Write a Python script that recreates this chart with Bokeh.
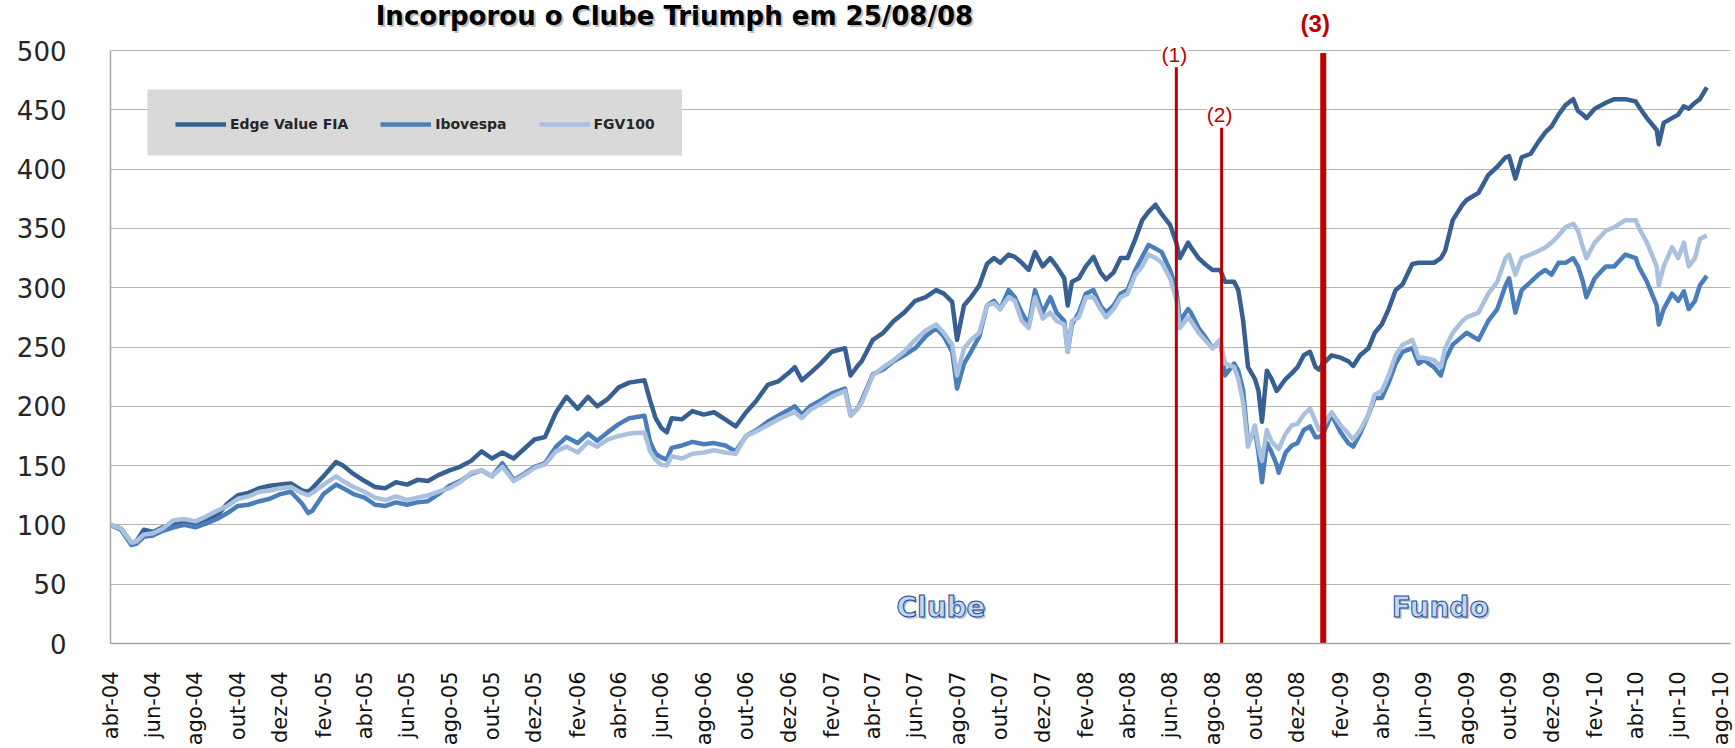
import pandas as pd
from bokeh.plotting import figure
from bokeh.models import Range1d, FixedTicker, Legend, LegendItem, Label, BoxAnnotation
from bokeh.embed import file_html
from bokeh.resources import INLINE

# ---------------- data ----------------
dates = [
    "2004-04-01", "2004-04-16", "2004-05-01", "2004-05-08", "2004-05-19", "2004-06-01", "2004-06-15",
    "2004-07-01", "2004-07-16", "2004-08-01", "2004-08-16", "2004-09-01", "2004-09-16", "2004-10-01",
    "2004-10-16", "2004-11-01", "2004-11-16", "2004-12-01", "2004-12-16",
    "2005-01-01", "2005-01-10", "2005-01-16", "2005-02-01", "2005-02-19", "2005-03-01", "2005-03-16",
    "2005-04-01", "2005-04-16", "2005-05-01", "2005-05-16", "2005-06-01", "2005-06-16", "2005-07-01",
    "2005-07-16", "2005-08-01", "2005-08-16", "2005-09-01", "2005-09-16", "2005-10-01", "2005-10-16",
    "2005-11-01", "2005-11-16", "2005-12-01", "2005-12-16",
    "2006-01-01", "2006-01-16", "2006-02-01", "2006-02-16", "2006-03-01", "2006-03-16", "2006-04-01",
    "2006-04-16", "2006-05-08", "2006-05-16", "2006-05-24", "2006-06-01", "2006-06-09", "2006-06-16",
    "2006-07-01", "2006-07-16", "2006-08-01", "2006-08-16", "2006-09-01", "2006-09-16", "2006-10-01",
    "2006-10-16", "2006-11-01", "2006-11-16", "2006-12-01", "2006-12-10", "2006-12-20",
    "2007-01-01", "2007-01-16", "2007-02-01", "2007-02-20", "2007-02-28", "2007-03-10", "2007-03-16",
    "2007-04-01", "2007-04-16", "2007-05-01", "2007-05-16", "2007-06-01", "2007-06-16", "2007-07-01",
    "2007-07-12", "2007-07-24", "2007-07-31", "2007-08-10", "2007-08-20", "2007-09-01", "2007-09-12",
    "2007-09-22", "2007-10-01", "2007-10-13", "2007-10-22", "2007-11-01", "2007-11-11", "2007-11-20",
    "2007-12-01", "2007-12-12", "2007-12-21",
    "2008-01-01", "2008-01-06", "2008-01-12", "2008-01-22", "2008-02-01", "2008-02-12", "2008-02-22",
    "2008-03-01", "2008-03-12", "2008-03-22", "2008-04-01", "2008-04-12", "2008-04-22", "2008-05-01",
    "2008-05-11", "2008-05-20", "2008-06-01", "2008-06-10", "2008-06-15", "2008-06-27", "2008-07-01",
    "2008-07-12", "2008-07-21", "2008-08-01", "2008-08-12", "2008-08-19", "2008-09-01", "2008-09-07",
    "2008-09-14", "2008-09-21", "2008-10-01", "2008-10-06", "2008-10-11", "2008-10-18", "2008-10-25",
    "2008-11-01", "2008-11-04", "2008-11-14", "2008-11-23", "2008-12-01", "2008-12-10", "2008-12-19",
    "2008-12-27",
    "2009-01-01", "2009-01-07", "2009-01-19", "2009-02-01", "2009-02-12", "2009-02-19", "2009-03-01",
    "2009-03-13", "2009-03-22", "2009-04-01", "2009-04-11", "2009-04-21", "2009-05-01", "2009-05-15",
    "2009-05-24", "2009-06-01", "2009-06-15", "2009-06-25", "2009-07-01", "2009-07-12", "2009-07-26",
    "2009-08-01", "2009-08-18", "2009-09-01", "2009-09-14", "2009-09-26", "2009-10-01", "2009-10-10",
    "2009-10-19", "2009-11-01", "2009-11-12", "2009-11-22", "2009-12-01", "2009-12-11", "2009-12-21",
    "2010-01-01", "2010-01-08", "2010-01-15", "2010-01-20", "2010-02-01", "2010-02-17", "2010-03-01",
    "2010-03-17", "2010-04-01", "2010-04-05", "2010-04-17", "2010-05-01", "2010-05-04", "2010-05-11",
    "2010-05-23", "2010-06-01", "2010-06-09", "2010-06-16", "2010-06-25", "2010-07-02", "2010-07-12",
]

edge_value_fia = [
    100, 97, 85, 86, 96, 94, 98, 101, 103, 100, 104, 108, 118, 125, 127, 131, 133, 134, 135,
    129, 128, 131, 141, 153, 150, 143, 137, 132, 131, 136, 134, 138, 137, 142, 146, 149, 154, 162, 156, 161,
    156, 164, 172, 174,
    195, 208, 198, 208, 200, 206, 216, 220, 222, 205, 190, 182, 178, 190, 189, 196, 193, 195, 189, 183, 195,
    205, 218, 221, 228, 233, 222,
    228, 236, 246, 249, 226, 234, 238, 256, 262, 272, 279, 289, 292, 298, 295, 288, 256, 285, 292, 302, 320,
    325, 321, 328, 326, 321, 315, 330, 318, 325, 318,
    308, 285, 305, 308, 318, 326, 313, 307, 313, 325, 325, 341, 357, 364, 370, 362, 353, 338, 325, 338, 334,
    325, 320, 315, 315, 305, 305, 298, 272, 233, 223, 213, 187, 230, 223, 213, 215, 223, 228, 233, 243, 246,
    233,
    231, 236, 243, 241, 238, 234, 243, 249, 262, 269, 282, 298, 303, 320, 321, 321, 321, 325, 331, 357, 370,
    374, 380, 395, 402, 410, 411, 392, 410, 413, 423, 431, 436, 446, 454,
    459, 449, 446, 443, 451, 456, 459, 459, 457, 453, 443, 433, 421, 439, 443, 446, 453, 451, 456, 459, 469,
]

ibovespa = [
    100, 96, 83, 84, 90, 91, 95, 98, 100, 98, 101, 105, 110, 116, 117, 120, 122, 126, 128,
    118, 110, 112, 126, 134, 131, 126, 123, 117, 116, 119, 117, 119, 120, 126, 133, 137, 143, 146, 141, 152,
    138, 143, 149, 152,
    166, 174, 169, 177, 171, 178, 185, 190, 192, 170, 160, 157, 155, 165, 167, 170, 168, 169, 167, 162, 175,
    180, 187, 192, 197, 200, 193,
    200, 205, 211, 215, 193, 198, 205, 227, 231, 238, 243, 249, 259, 266, 259, 246, 215, 236, 246, 259, 285,
    289, 282, 298, 292, 279, 269, 298, 279, 292, 279,
    272, 246, 269, 279, 295, 298, 285, 279, 285, 295, 298, 315, 326, 336, 333, 330, 315, 298, 272, 282, 279,
    266, 259, 249, 256, 226, 236, 230, 213, 169, 180, 161, 136, 169, 161, 151, 144, 161, 167, 169, 180, 183,
    174,
    174, 177, 193, 178, 169, 166, 177, 193, 207, 207, 220, 236, 246, 249, 236, 239, 233, 226, 239, 252, 259,
    262, 256, 272, 282, 302, 308, 279, 298, 305, 311, 315, 311, 321, 321,
    325, 318, 305, 292, 308, 318, 318, 328, 325, 318, 305, 285, 269, 282, 295, 289, 297, 282, 289, 302, 310,
]

fgv100 = [
    100, 97, 85, 86, 92, 93, 97, 104, 105, 103, 107, 112, 116, 122, 124, 128, 129, 131, 132,
    127, 125, 127, 134, 141, 137, 132, 128, 123, 121, 124, 121, 123, 125, 128, 131, 136, 144, 146, 141, 149,
    137, 142, 148, 151,
    162, 166, 161, 170, 166, 172, 175, 177, 178, 162, 155, 151, 150, 158, 156, 160, 161, 163, 161, 160, 175,
    179, 184, 189, 193, 195, 190,
    197, 202, 208, 213, 192, 198, 203, 226, 233, 239, 246, 256, 264, 269, 262, 252, 226, 249, 256, 262, 285,
    287, 282, 292, 289, 272, 266, 292, 274, 279, 272,
    269, 246, 272, 275, 292, 292, 282, 275, 282, 292, 295, 311, 318, 328, 325, 321, 308, 290, 266, 275, 272,
    262, 256, 249, 256, 236, 233, 223, 203, 166, 184, 166, 154, 180, 170, 166, 164, 177, 184, 185, 193, 198,
    187,
    180, 184, 195, 184, 177, 172, 180, 193, 210, 213, 226, 243, 252, 256, 241, 241, 239, 233, 249, 262, 272,
    275, 279, 295, 305, 325, 328, 311, 325, 328, 331, 334, 338, 344, 351,
    354, 348, 334, 325, 338, 348, 351, 357, 357, 351, 338, 318, 302, 318, 334, 325, 338, 318, 325, 341, 344,
]

series_names = ["Edge Value FIA", "Ibovespa", "FGV100"]

tick_labels = [
    "abr-04", "jun-04", "ago-04", "out-04", "dez-04",
    "fev-05", "abr-05", "jun-05", "ago-05", "out-05", "dez-05",
    "fev-06", "abr-06", "jun-06", "ago-06", "out-06", "dez-06",
    "fev-07", "abr-07", "jun-07", "ago-07", "out-07", "dez-07",
    "fev-08", "abr-08", "jun-08", "ago-08", "out-08", "dez-08",
    "fev-09", "abr-09", "jun-09", "ago-09", "out-09", "dez-09",
    "fev-10", "abr-10", "jun-10", "ago-10",
]
y_ticks = [0, 50, 100, 150, 200, 250, 300, 350, 400, 450, 500]

event_dates = ["2008-06-10", "2008-08-14", "2009-01-07"]
event_tops = [486, 435, 498]
event_labels = ["(1)", "(2)", "(3)"]
event_label_y = [497, 446, 523]

title_text = "Incorporou o Clube Triumph em 25/08/08"
phase_labels = ["Clube", "Fundo"]
phase_dates = ["2007-07-08", "2009-06-24"]
phase_y = [30, 30]

# ---------------- figure ----------------
def ms(d):
    return int(pd.Timestamp(d).value // 10**6)

x = pd.to_datetime(dates)

p = figure(
    width=1735, height=748,
    x_axis_type="datetime",
    x_range=Range1d(pd.Timestamp("2004-04-01"), pd.Timestamp("2010-08-15")),
    y_range=Range1d(0, 542.2),
    output_backend="svg", toolbar_location=None,
    min_border_left=110, min_border_right=5, min_border_top=0, min_border_bottom=105,
)
p.outline_line_color = None
p.background_fill_color = "white"
p.border_fill_color = "white"

# legend background box
p.add_layout(BoxAnnotation(left=ms("2004-05-24"), right=ms("2006-07-01"), bottom=411.5, top=467.1,
                           fill_color="#d9d9d9", fill_alpha=1.0, line_color=None))

colors = ["#376092", "#4a7ebb", "#a9c0df"]
renderers = []
for vals, c in zip([edge_value_fia, ibovespa, fgv100], colors):
    r = p.line(x, vals, line_color=c, line_width=4.5, line_join="round")
    renderers.append(r)

# axes
tick_ms = [ms(t) for t in pd.date_range("2004-04-01", "2010-08-01", freq="2MS")]
p.xaxis.ticker = FixedTicker(ticks=tick_ms)
p.xaxis.major_label_overrides = dict(zip(tick_ms, tick_labels))
p.xaxis.major_label_orientation = 3.14159265 / 2
p.xaxis.major_label_text_font = "DejaVu Sans"
p.xaxis.major_label_text_font_size = "21px"
p.xaxis.major_label_text_color = "#111111"
p.xaxis.major_label_standoff = 22

p.yaxis.ticker = FixedTicker(ticks=y_ticks)
p.yaxis.bounds = (0, 500)
p.yaxis.major_label_text_font = "DejaVu Sans"
p.yaxis.major_label_text_font_size = "26px"
p.yaxis.major_label_text_color = "#262626"
p.yaxis.major_label_standoff = 38

for ax in (p.xaxis, p.yaxis):
    ax.axis_line_color = "#a6a6a6"
    ax.axis_line_width = 1.5
    ax.major_tick_line_color = None
    ax.minor_tick_line_color = None

p.xgrid.visible = False
p.ygrid.ticker = FixedTicker(ticks=y_ticks)
p.ygrid.grid_line_color = "#b5b5b5"
p.ygrid.grid_line_width = 1.2

# red event lines
event_widths = [3, 3, 6]
for d, top, w in zip(event_dates, event_tops, event_widths):
    p.segment(x0=[pd.Timestamp(d)], y0=[0], x1=[pd.Timestamp(d)], y1=[top],
              line_color="#c00000", line_width=w)

for i, (d, t, yv) in enumerate(zip(event_dates, event_labels, event_label_y)):
    bold = (i == 2)
    p.add_layout(Label(
        x=ms(d), y=yv, text=t, text_align="center", text_baseline="middle",
        x_offset=-8 if bold else -2,
        text_font="Liberation Sans", text_font_size="24px" if bold else "21px",
        text_font_style="bold" if bold else "normal", text_color="#c00000",
        background_fill_color=None if bold else "white",
    ))

# phase labels (outlined, with soft shadow)
for t, d, yv in zip(phase_labels, phase_dates, phase_y):
    p.add_layout(Label(x=ms(d), y=yv, text=t, text_align="center", text_baseline="middle",
                       x_offset=2, y_offset=-2, text_font="DejaVu Sans", text_font_style="bold",
                       text_font_size="28px", text_color="#6f7f9a", text_alpha=0.45))
    p.add_layout(Label(x=ms(d), y=yv, text=t, text_align="center", text_baseline="middle",
                       text_font="DejaVu Sans", text_font_style="bold", text_font_size="28px",
                       text_color="#c3d6ee", text_outline_color="#1c4b94"))

# title with shadow
title_x = ms("2006-06-20")
p.add_layout(Label(x=title_x, y=529.0, text=title_text, text_align="center", text_baseline="middle",
                   x_offset=2, y_offset=-2, text_font="DejaVu Sans", text_font_style="bold",
                   text_font_size="26px", text_color="#808080", text_alpha=0.5))
p.add_layout(Label(x=title_x, y=529.0, text=title_text, text_align="center", text_baseline="middle",
                   text_font="DejaVu Sans", text_font_style="bold", text_font_size="26px",
                   text_color="#000000"))

# legend
legend = Legend(
    items=[LegendItem(label=n, renderers=[r]) for n, r in zip(series_names, renderers)],
    orientation="horizontal", location=(65, 511), margin=0, padding=0, spacing=32,
    glyph_width=51, glyph_height=16, label_height=16, label_standoff=4,
    label_text_font="DejaVu Sans", label_text_font_style="bold", label_text_font_size="14px",
    label_text_color="#262626",
    background_fill_alpha=0.0, border_line_color=None,
)
p.add_layout(legend)

open("out.html", "w").write(file_html(p, INLINE))
